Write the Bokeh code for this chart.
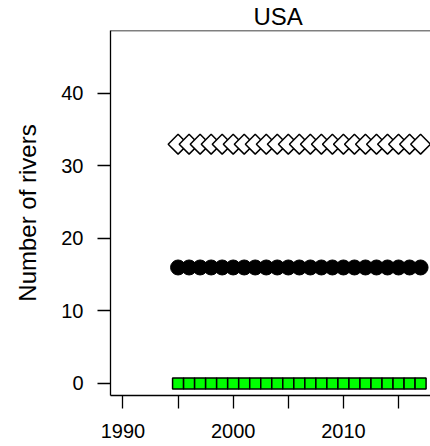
import math
from bokeh.plotting import figure
from bokeh.models import FixedTicker, Span
from bokeh.embed import file_html
from bokeh.resources import INLINE

years = list(range(1995, 2018))
series_a = [33] * len(years)   # open diamonds
series_b = [16] * len(years)   # black circles
series_c = [0] * len(years)    # green squares
x_ticks = [1990, 1995, 2000, 2005, 2010, 2015]
x_tick_labels = {1990: "1990", 1995: "", 2000: "2000", 2005: "", 2010: "2010", 2015: ""}
y_ticks = [0, 10, 20, 30, 40]
title_text = "USA"
y_label = "Number of rivers"

FONT = "Liberation Sans"

p = figure(width=430, height=446, output_backend="svg", toolbar_location=None,
           x_range=(1988.87, 2017.9), y_range=(-1.66, 48.69),
           min_border_left=110, min_border_right=0, min_border_top=30, min_border_bottom=51)
p.grid.visible = False
p.outline_line_color = None
p.background_fill_color = "white"
p.border_fill_color = "white"

p.title.text = title_text
p.title.text_font = FONT
p.title.text_font_size = "24px"
p.title.text_font_style = "normal"
p.title.text_color = "black"
p.title.align = "left"
p.title.standoff = 1
p.title.offset = 143

for ax in (p.xaxis[0], p.yaxis[0]):
    ax.axis_line_color = "black"
    ax.axis_line_width = 1.3
    ax.major_tick_line_color = "black"
    ax.major_tick_line_width = 1.3
    ax.major_tick_out = 13
    ax.major_tick_in = 0
    ax.minor_tick_line_color = None
    ax.major_label_text_font = FONT
    ax.major_label_text_font_size = "20px"
    ax.major_label_text_color = "black"

p.xaxis[0].ticker = FixedTicker(ticks=x_ticks)
p.xaxis[0].major_label_overrides = x_tick_labels
p.xaxis[0].major_label_standoff = 15
p.yaxis[0].ticker = FixedTicker(ticks=y_ticks)
p.yaxis[0].major_label_standoff = 14
p.yaxis[0].axis_label = y_label
p.yaxis[0].axis_label_text_font = FONT
p.yaxis[0].axis_label_text_font_size = "24px"
p.yaxis[0].axis_label_text_font_style = "normal"
p.yaxis[0].axis_label_text_color = "black"
p.yaxis[0].axis_label_standoff = 17

p.add_layout(Span(location=48.69, dimension="width", line_color="black", line_width=1.3))

p.scatter(years, series_a, marker="square", angle=math.pi / 4, size=14,
          fill_color="white", line_color="black", line_width=1.5)
p.scatter(years, series_b, marker="circle", size=15,
          fill_color="black", line_color="black", line_width=1)
p.scatter(years, series_c, marker="square", size=11,
          fill_color="#00FF00", line_color="black", line_width=1.5)

open("out.html", "w").write(file_html(p, INLINE))
